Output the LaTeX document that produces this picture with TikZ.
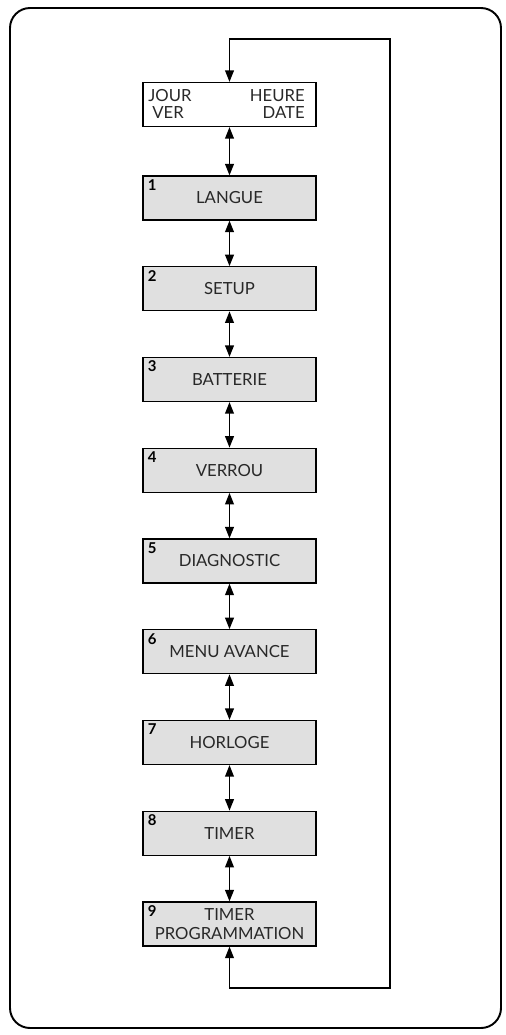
\documentclass[tikz,border=0pt]{standalone}
\usepackage{fontspec}
\setmainfont{Lato}
\usetikzlibrary{arrows.meta}
\definecolor{menugray}{RGB}{224,224,224}
\definecolor{menutext}{RGB}{40,40,40}

\begin{document}
\begin{tikzpicture}[x=0.02cm,y=-0.02cm,>={Triangle[length=6.5pt,width=5pt]},
    menu/.style={draw,line width=0.7pt,fill=menugray,minimum width=3.46cm,minimum height=0.88cm,
      inner sep=0pt,align=center,text=menutext,font=\fontsize{9.5}{11}\selectfont},
    num/.style={anchor=base west,inner sep=0pt,font=\fontsize{8.5}{9}\selectfont\bfseries},
    lbl/.style={inner sep=0pt,text=menutext,font=\fontsize{9.5}{10}\selectfont}]
    \useasboundingbox (0,0) rectangle (506,1035);
    \draw[line width=1.1pt,rounded corners=0.4cm] (10,8) rectangle (501,1028);
    % display box
    \node[menu,fill=white] (top) at (229.5,104.5) {};
    \node[lbl,anchor=base west] (jour) at (148,101) {JOUR};
    \node[lbl,anchor=base east] (heure) at (305,101) {HEURE};
    \node[lbl,anchor=base west] (ver) at (152,118) {VER};
    \node[lbl,anchor=base east] (date) at (305,118) {DATE};
    % menu entries
    \foreach \i/\name in {1/LANGUE,2/SETUP,3/BATTERIE,4/VERROU,5/DIAGNOSTIC,
        6/MENU AVANCE,7/HORLOGE,8/TIMER,9/{TIMER\\PROGRAMMATION}} {
      \node[menu] (m\i) at (229.5,{198+90.75*(\i-1)}) {\name};
      \node[num,xshift=0.1cm,yshift=-0.3cm] at (m\i.north west) {\i};
    }
    \draw[line width=0.7pt,<->] (top) -- (m1);
    \foreach \i [count=\j from 2] in {1,...,8} \draw[line width=0.7pt,<->] (m\i) -- (m\j);
    % loop back
    \coordinate (loopbr) at (390,988);
    \coordinate (looptr) at (390,39);
    \draw[line width=0.7pt,<->] (m9.south) |- (loopbr) -- (looptr) -| (top.north);
\end{tikzpicture}
\end{document}
